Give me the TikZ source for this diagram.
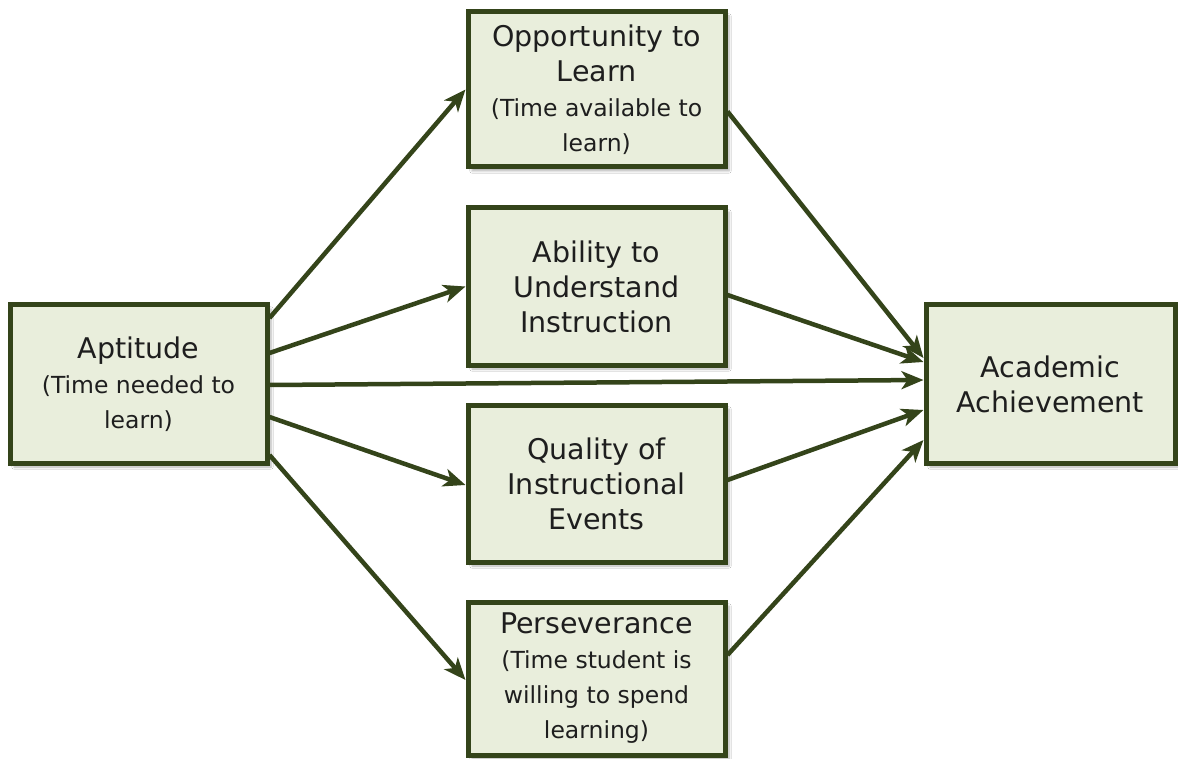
\documentclass[tikz,border=0pt]{standalone}
\usepackage{fontspec}
\setmainfont{DejaVu Sans}
\usetikzlibrary{arrows.meta,shadows.blur}
\definecolor{edgegreen}{HTML}{34441A}
\definecolor{boxfill}{HTML}{E9EEDC}
\definecolor{txt}{HTML}{1E1E1E}
\newcommand{\subtxt}[1]{{\fontsize{23.5}{33}\selectfont #1}}
\tikzset{
  box/.style={draw=edgegreen, line width=5pt, fill=boxfill, rectangle,
    align=center, text=txt, inner sep=0pt,
    font=\fontsize{28.5}{35}\selectfont,
    blur shadow={shadow xshift=4pt, shadow yshift=-4pt, shadow blur steps=6, shadow opacity=30}},
  conn/.style={draw=edgegreen, line width=4.5pt, -{Stealth[length=22pt,width=18pt,inset=6pt]}}
}
\begin{document}
\begin{tikzpicture}[x=1pt,y=-1pt]
\useasboundingbox (0,0) rectangle (1178,759);
\fill[white] (0,0) rectangle (1178,759);

\node[box, minimum width=257pt, minimum height=158pt] (apt) at (138.5,384)
  {Aptitude\\\subtxt{(Time needed to}\\\subtxt{learn)}};
\node[box, minimum width=257pt, minimum height=155pt] (opp) at (596.5,89.5)
  {Opportunity to\\Learn\\\subtxt{(Time available to}\\\subtxt{learn)}};
\node[box, minimum width=257pt, minimum height=157pt] (abi) at (596.5,286.5)
  {Ability to\\Understand\\Instruction};
\node[box, minimum width=257pt, minimum height=157pt] (qual) at (596.5,483.5)
  {Quality of\\Instructional\\Events};
\node[box, minimum width=257pt, minimum height=153pt] (pers) at (596.5,678.5)
  {Perseverance\\\subtxt{(Time student is}\\\subtxt{willing to spend}\\\subtxt{learning)}};
\node[box, minimum width=249pt, minimum height=158pt] (acad) at (1050.5,384)
  {Academic\\Achievement};

\coordinate (a1) at ([yshift=66pt]apt.east);
\coordinate (a2) at ([yshift=31pt]apt.east);
\coordinate (a3) at ([yshift=-1pt]apt.east);
\coordinate (a4) at ([yshift=-33pt]apt.east);
\coordinate (a5) at ([yshift=-71pt]apt.east);

\draw[conn] (a1) -- (opp.west);
\draw[conn] (a2) -- (abi.west);
\draw[conn] (a3) -- ([yshift=4pt]acad.west);
\draw[conn] (a4) -- ([yshift=-1.5pt]qual.west);
\draw[conn] (a5) -- ([yshift=-1.5pt]pers.west);

\draw[conn] ([yshift=-22pt]opp.east) -- ([yshift=26pt]acad.west);
\draw[conn] ([yshift=-8.5pt]abi.east) -- ([yshift=22pt]acad.west);
\draw[conn] ([yshift=3.5pt]qual.east) -- ([yshift=-26pt]acad.west);
\draw[conn] ([yshift=23.5pt]pers.east) -- ([yshift=-56pt]acad.west);
\end{tikzpicture}
\end{document}
